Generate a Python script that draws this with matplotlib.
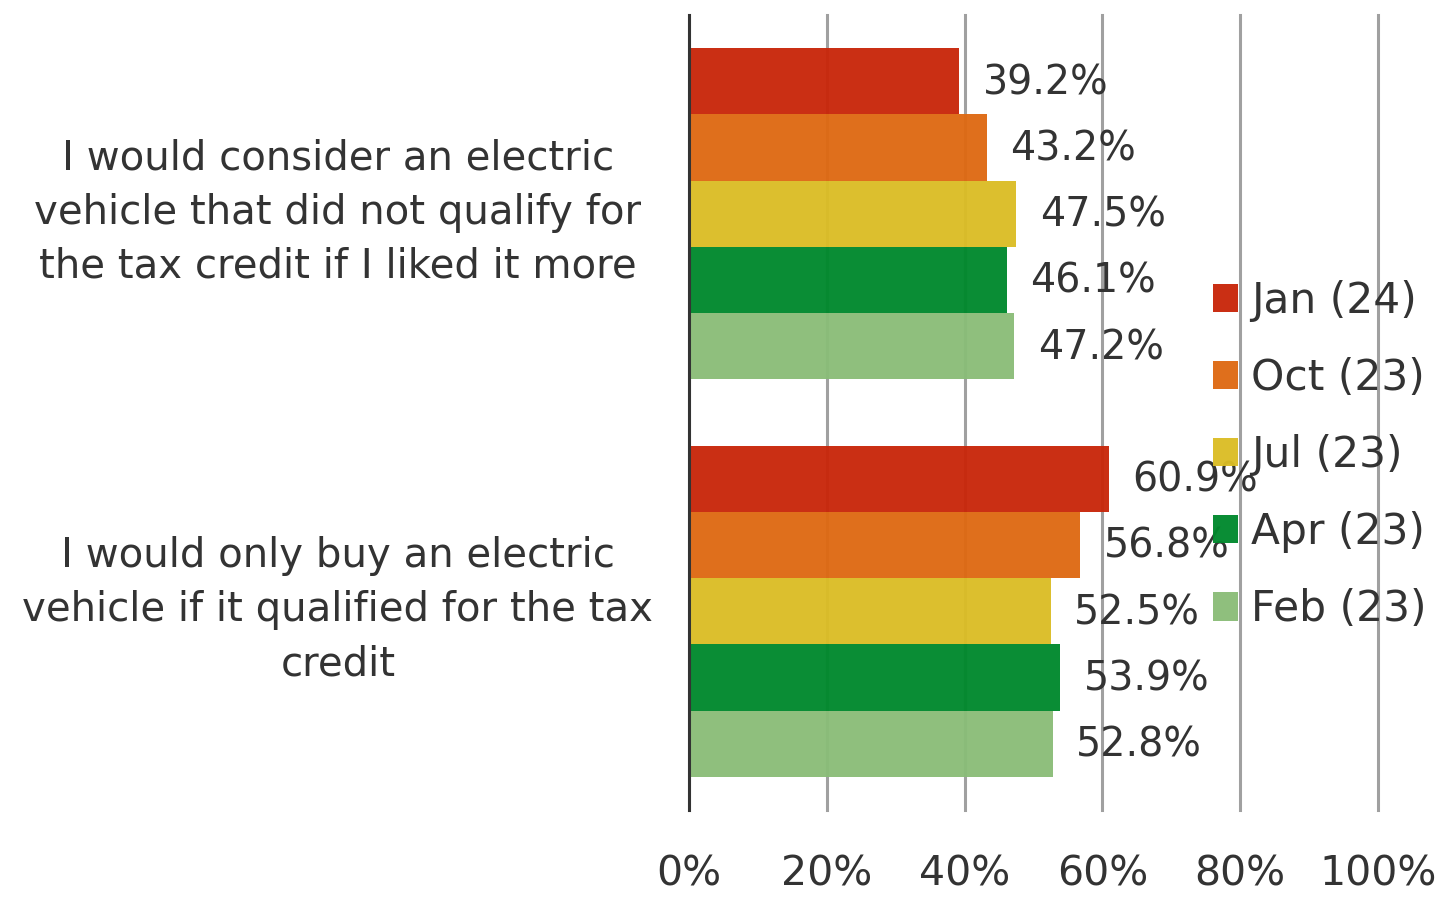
import matplotlib
matplotlib.use("Agg")
import matplotlib.pyplot as plt
import matplotlib.transforms as mtransforms
import numpy as np

categories = ["I would consider an electric\nvehicle that did not qualify for\nthe tax credit if I liked it more",
              "I would only buy an electric\nvehicle if it qualified for the tax\ncredit"]
series = ["Jan (24)", "Oct (23)", "Jul (23)", "Apr (23)", "Feb (23)"]
values = {
    "Jan (24)": [39.2, 60.9],
    "Oct (23)": [43.2, 56.8],
    "Jul (23)": [47.5, 52.5],
    "Apr (23)": [46.1, 53.9],
    "Feb (23)": [47.2, 52.8],
}
colors = ["#C8260A", "#DE6912", "#DBBD25", "#00882C", "#8ABD78"]
xticks = [0, 20, 40, 60, 80, 100]

TXT = "#333333"
plt.rcParams['font.family'] = ['DejaVu Sans']

fig = plt.figure(figsize=(14.37, 8.99), dpi=100)
ax = fig.add_axes([689/1437, 1-810/899, (1378-689)/1437, (810-15)/899])

n = len(series)
h = 1/6
y = np.arange(len(categories))
for i, s in enumerate(series):
    pos = y - (n*h)/2 + h/2 + i*h
    ax.barh(pos, values[s], height=h, color=colors[i], alpha=0.96, label=s, zorder=2)
    for p, v in zip(pos, values[s]):
        ax.text(v + 3.4, p + 0.005, f"{v:.1f}%", va="center", ha="left", fontsize=28.5, color=TXT, zorder=3)

ax.set_xlim(0, 100)
ax.set_ylim(1.5, -0.5)
ax.set_xticks(xticks)
ax.set_xticklabels([f"{t}%" for t in xticks], fontsize=29.5, color=TXT)
ax.set_yticks(y)
ax.set_yticklabels([])
blend = mtransforms.blended_transform_factory(ax.transAxes, ax.transData)
shift = mtransforms.ScaledTranslation(0, 1/100, fig.dpi_scale_trans)
for yy, cat in zip(y, categories):
    ax.text(-351/689, yy, cat, transform=blend + shift, ha="center", va="center",
            multialignment="center", fontsize=29, color=TXT, linespacing=1.45)
ax.tick_params(axis="y", length=0)
ax.tick_params(axis="x", length=0, pad=32)
ax.grid(axis="x", color="#a0a0a0", linewidth=2.2, zorder=1)
for gl in ax.get_xgridlines():
    gl.set_clip_on(False)
ax.set_axisbelow(True)
for sp in ["top", "right", "bottom"]:
    ax.spines[sp].set_visible(False)
ax.spines["left"].set_color("#333333")
ax.spines["left"].set_linewidth(2.2)
ax.spines["left"].set_zorder(4)

leg = ax.legend(loc="center left", bbox_to_anchor=((1213-689)/689, (810-455)/795), frameon=False,
                fontsize=30.5, handlelength=0.6, handleheight=0.65, handletextpad=0.3,
                labelspacing=0.83, labelcolor=TXT, borderaxespad=0, borderpad=0)

fig.savefig("out.png", dpi=100)
